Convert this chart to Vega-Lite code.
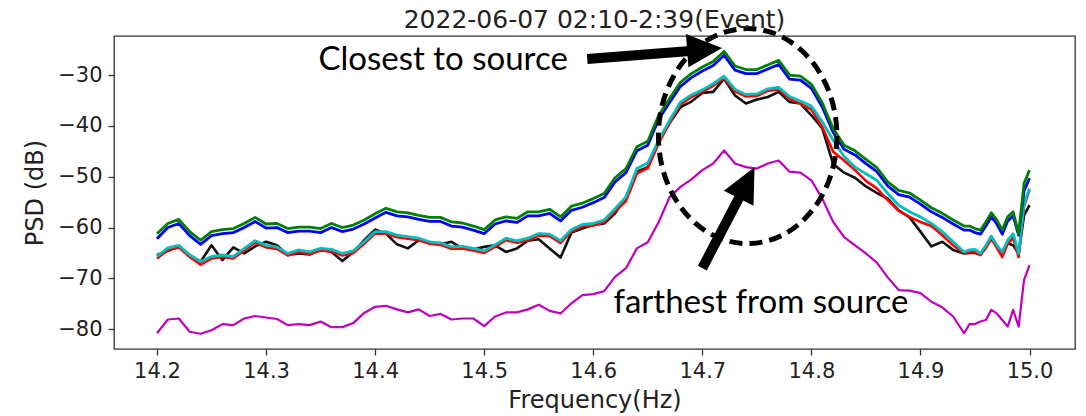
{
  "$schema": "https://vega.github.io/schema/vega-lite/v6.json",
  "width": 961,
  "height": 313,
  "autosize": {"type": "none"},
  "padding": {"left": 114, "top": 36, "right": 11, "bottom": 67},
  "title": {"text": "2022-06-07 02:10-2:39(Event)", "font": "DejaVu Sans", "fontSize": 25, "fontWeight": "normal", "color": "#222222", "baseline": "alphabetic", "offset": -34, "anchor": "middle"},
  "config": {
    "view": {"stroke": "#333333", "strokeWidth": 1.3},
    "axis": {"domain": false, "grid": false, "tickColor": "#333333", "tickSize": 6, "tickWidth": 1.3, "labelFont": "DejaVu Sans", "labelFontSize": 21, "labelColor": "#222222", "titleFont": "DejaVu Sans", "titleFontSize": 24, "titleFontWeight": "normal", "titleColor": "#222222"}
  },
  "datasets": {
    "psd": [
      {"f":14.20,"g":-61.2,"b":-62.2,"r":-66.1,"c":-65.7,"k":-65.4,"m":-80.8},
      {"f":14.21,"g":-59.2,"b":-60.0,"r":-64.4,"c":-64.0,"k":-64.6,"m":-78.1},
      {"f":14.22,"g":-58.4,"b":-59.2,"r":-63.9,"c":-63.5,"k":-63.7,"m":-77.9},
      {"f":14.23,"g":-60.8,"b":-61.6,"r":-65.8,"c":-65.4,"k":-65.4,"m":-80.5},
      {"f":14.24,"g":-62.5,"b":-63.3,"r":-67.3,"c":-66.7,"k":-66.7,"m":-80.9},
      {"f":14.25,"g":-60.8,"b":-61.6,"r":-66.1,"c":-65.7,"k":-63.5,"m":-80.2},
      {"f":14.26,"g":-60.4,"b":-61.2,"r":-65.8,"c":-65.4,"k":-66.4,"m":-79.0},
      {"f":14.27,"g":-60.2,"b":-61.0,"r":-66.1,"c":-65.7,"k":-63.9,"m":-79.2},
      {"f":14.28,"g":-59.2,"b":-60.0,"r":-64.5,"c":-64.1,"k":-65.1,"m":-77.9},
      {"f":14.29,"g":-58.0,"b":-58.8,"r":-63.0,"c":-62.6,"k":-63.7,"m":-77.4},
      {"f":14.30,"g":-59.3,"b":-60.1,"r":-63.9,"c":-63.5,"k":-62.8,"m":-77.7},
      {"f":14.31,"g":-59.2,"b":-60.0,"r":-64.2,"c":-63.8,"k":-63.5,"m":-78.0},
      {"f":14.32,"g":-60.2,"b":-61.0,"r":-65.5,"c":-65.1,"k":-65.4,"m":-79.2},
      {"f":14.33,"g":-59.9,"b":-60.7,"r":-64.8,"c":-64.4,"k":-65.1,"m":-79.0},
      {"f":14.34,"g":-59.9,"b":-60.7,"r":-65.2,"c":-64.8,"k":-65.3,"m":-79.2},
      {"f":14.35,"g":-60.2,"b":-61.0,"r":-64.5,"c":-64.1,"k":-64.3,"m":-78.5},
      {"f":14.36,"g":-59.2,"b":-60.0,"r":-64.7,"c":-64.3,"k":-64.8,"m":-79.6},
      {"f":14.37,"g":-60.0,"b":-60.8,"r":-65.5,"c":-65.1,"k":-66.6,"m":-79.6},
      {"f":14.38,"g":-59.5,"b":-60.3,"r":-65.0,"c":-64.6,"k":-64.8,"m":-78.8},
      {"f":14.39,"g":-58.5,"b":-59.3,"r":-63.2,"c":-62.8,"k":-62.5,"m":-76.8},
      {"f":14.40,"g":-57.3,"b":-58.1,"r":-61.2,"c":-60.8,"k":-60.4,"m":-75.6},
      {"f":14.41,"g":-56.2,"b":-57.0,"r":-61.2,"c":-60.8,"k":-61.2,"m":-75.4},
      {"f":14.42,"g":-56.9,"b":-57.7,"r":-61.9,"c":-61.5,"k":-63.3,"m":-76.1},
      {"f":14.43,"g":-57.1,"b":-57.9,"r":-62.2,"c":-61.8,"k":-64.1,"m":-76.7},
      {"f":14.44,"g":-57.6,"b":-58.4,"r":-62.5,"c":-62.1,"k":-62.5,"m":-76.1},
      {"f":14.45,"g":-58.0,"b":-58.8,"r":-63.2,"c":-62.8,"k":-63.0,"m":-77.4},
      {"f":14.46,"g":-58.0,"b":-58.8,"r":-63.4,"c":-63.0,"k":-63.3,"m":-77.0},
      {"f":14.47,"g":-58.9,"b":-59.7,"r":-64.2,"c":-63.8,"k":-62.8,"m":-78.1},
      {"f":14.48,"g":-59.1,"b":-59.9,"r":-64.1,"c":-63.7,"k":-64.1,"m":-77.9},
      {"f":14.49,"g":-59.7,"b":-60.5,"r":-64.5,"c":-64.1,"k":-64.3,"m":-77.9},
      {"f":14.50,"g":-60.4,"b":-61.2,"r":-65.0,"c":-64.6,"k":-63.8,"m":-79.4},
      {"f":14.51,"g":-58.5,"b":-59.3,"r":-63.8,"c":-63.4,"k":-63.5,"m":-77.5},
      {"f":14.52,"g":-57.9,"b":-58.7,"r":-62.5,"c":-62.1,"k":-64.8,"m":-76.7},
      {"f":14.53,"g":-58.2,"b":-59.0,"r":-63.0,"c":-62.6,"k":-64.1,"m":-76.7},
      {"f":14.54,"g":-56.9,"b":-57.7,"r":-62.5,"c":-62.1,"k":-62.6,"m":-76.1},
      {"f":14.55,"g":-56.9,"b":-57.7,"r":-61.6,"c":-61.2,"k":-62.3,"m":-75.2},
      {"f":14.56,"g":-56.4,"b":-57.2,"r":-61.7,"c":-61.3,"k":-64.1,"m":-76.4},
      {"f":14.57,"g":-57.9,"b":-58.7,"r":-63.0,"c":-62.6,"k":-65.9,"m":-76.9},
      {"f":14.58,"g":-55.8,"b":-56.6,"r":-60.8,"c":-60.4,"k":-61.0,"m":-74.9},
      {"f":14.59,"g":-55.2,"b":-56.0,"r":-59.8,"c":-59.4,"k":-60.2,"m":-73.3},
      {"f":14.60,"g":-54.3,"b":-55.1,"r":-59.6,"c":-59.2,"k":-59.5,"m":-73.1},
      {"f":14.61,"g":-53.3,"b":-54.1,"r":-58.9,"c":-58.5,"k":-59.2,"m":-72.5},
      {"f":14.62,"g":-50.2,"b":-51.0,"r":-56.8,"c":-56.3,"k":-57.2,"m":-69.7},
      {"f":14.63,"g":-48.4,"b":-49.2,"r":-54.8,"c":-54.0,"k":-54.0,"m":-68.0},
      {"f":14.64,"g":-44.1,"b":-44.9,"r":-49.4,"c":-48.4,"k":-49.0,"m":-64.1},
      {"f":14.65,"g":-43.0,"b":-43.8,"r":-48.3,"c":-47.3,"k":-48.1,"m":-62.9},
      {"f":14.66,"g":-37.9,"b":-38.7,"r":-43.4,"c":-42.8,"k":-43.2,"m":-58.9},
      {"f":14.67,"g":-34.6,"b":-35.4,"r":-39.4,"c":-38.9,"k":-39.4,"m":-54.0},
      {"f":14.68,"g":-31.4,"b":-32.2,"r":-35.8,"c":-35.3,"k":-36.3,"m":-52.0},
      {"f":14.69,"g":-29.7,"b":-30.5,"r":-34.3,"c":-33.9,"k":-35.2,"m":-50.5},
      {"f":14.70,"g":-28.4,"b":-29.2,"r":-33.3,"c":-32.9,"k":-33.5,"m":-48.7},
      {"f":14.71,"g":-27.3,"b":-28.1,"r":-32.1,"c":-31.7,"k":-33.3,"m":-47.4},
      {"f":14.72,"g":-25.3,"b":-26.1,"r":-30.6,"c":-30.2,"k":-30.7,"m":-44.8},
      {"f":14.73,"g":-28.2,"b":-29.0,"r":-33.2,"c":-32.8,"k":-34.0,"m":-47.4},
      {"f":14.74,"g":-28.9,"b":-29.7,"r":-34.2,"c":-33.8,"k":-35.6,"m":-48.1},
      {"f":14.75,"g":-28.9,"b":-29.7,"r":-34.1,"c":-33.7,"k":-34.8,"m":-48.4},
      {"f":14.76,"g":-28.0,"b":-28.8,"r":-33.1,"c":-32.7,"k":-34.3,"m":-47.4},
      {"f":14.77,"g":-27.1,"b":-27.9,"r":-32.8,"c":-32.4,"k":-33.3,"m":-46.8},
      {"f":14.78,"g":-30.0,"b":-30.8,"r":-34.7,"c":-34.2,"k":-35.3,"m":-49.0},
      {"f":14.79,"g":-30.2,"b":-31.0,"r":-35.6,"c":-35.1,"k":-35.6,"m":-49.2},
      {"f":14.80,"g":-31.8,"b":-32.6,"r":-36.8,"c":-36.1,"k":-37.9,"m":-50.7},
      {"f":14.81,"g":-35.5,"b":-36.3,"r":-40.2,"c":-39.2,"k":-40.5,"m":-54.3},
      {"f":14.82,"g":-40.5,"b":-41.3,"r":-45.1,"c":-42.8,"k":-47.5,"m":-58.9},
      {"f":14.83,"g":-43.8,"b":-44.6,"r":-46.8,"c":-46.0,"k":-49.2,"m":-61.9},
      {"f":14.84,"g":-44.9,"b":-45.7,"r":-48.7,"c":-48.1,"k":-50.2,"m":-63.5},
      {"f":14.85,"g":-46.6,"b":-47.4,"r":-50.8,"c":-49.4,"k":-51.9,"m":-65.1},
      {"f":14.86,"g":-48.2,"b":-49.0,"r":-52.3,"c":-50.7,"k":-53.2,"m":-66.9},
      {"f":14.87,"g":-51.0,"b":-51.8,"r":-54.6,"c":-53.3,"k":-54.3,"m":-69.8},
      {"f":14.88,"g":-52.7,"b":-53.5,"r":-56.7,"c":-55.6,"k":-56.6,"m":-72.3},
      {"f":14.89,"g":-53.2,"b":-54.0,"r":-57.9,"c":-56.9,"k":-58.0,"m":-72.4},
      {"f":14.90,"g":-54.6,"b":-55.4,"r":-58.9,"c":-57.9,"k":-60.8,"m":-72.9},
      {"f":14.91,"g":-56.1,"b":-56.9,"r":-59.7,"c":-59.2,"k":-63.7,"m":-74.6},
      {"f":14.92,"g":-57.2,"b":-58.0,"r":-61.5,"c":-60.8,"k":-62.8,"m":-75.7},
      {"f":14.93,"g":-58.5,"b":-59.3,"r":-63.5,"c":-62.8,"k":-64.4,"m":-77.5},
      {"f":14.94,"g":-59.7,"b":-60.5,"r":-65.0,"c":-64.8,"k":-65.1,"m":-80.8},
      {"f":14.945,"g":-59.7,"b":-60.5,"r":-64.8,"c":-64.4,"k":-65.0,"m":-79.0},
      {"f":14.95,"g":-60.2,"b":-61.0,"r":-64.8,"c":-64.3,"k":-65.0,"m":-79.0},
      {"f":14.955,"g":-60.5,"b":-61.3,"r":-65.4,"c":-65.1,"k":-65.4,"m":-78.5},
      {"f":14.96,"g":-58.9,"b":-59.7,"r":-64.0,"c":-63.5,"k":-63.8,"m":-78.2},
      {"f":14.965,"g":-57.1,"b":-57.9,"r":-62.2,"c":-61.7,"k":-61.8,"m":-76.2},
      {"f":14.97,"g":-58.5,"b":-59.3,"r":-64.0,"c":-63.5,"k":-63.5,"m":-76.9},
      {"f":14.975,"g":-60.5,"b":-61.3,"r":-65.8,"c":-64.8,"k":-65.0,"m":-78.2},
      {"f":14.98,"g":-57.9,"b":-58.7,"r":-63.2,"c":-62.5,"k":-63.1,"m":-79.5},
      {"f":14.985,"g":-56.9,"b":-57.7,"r":-62.0,"c":-61.2,"k":-63.5,"m":-76.2},
      {"f":14.99,"g":-61.2,"b":-61.5,"r":-65.8,"c":-65.1,"k":-65.1,"m":-79.5},
      {"f":14.995,"g":-51.3,"b":-52.8,"r":-55.8,"c":-55.3,"k":-57.6,"m":-70.3},
      {"f":15.00,"g":-48.7,"b":-50.3,"r":-52.6,"c":-52.3,"k":-55.6,"m":-67.4}
    ]
  },
  "encoding": {
    "x": {"field": "f", "type": "quantitative", "title": "Frequency(Hz)",
          "scale": {"domain": [14.1606, 15.0417], "nice": false, "zero": false},
          "axis": {"values": [14.2, 14.3, 14.4, 14.5, 14.6, 14.7, 14.8, 14.9, 15.0], "format": ".1f", "labelPadding": 5, "titlePadding": 7}},
    "y": {"field": "v", "type": "quantitative", "title": "PSD (dB)",
          "scale": {"domain": [-83.9, -22.3], "nice": false, "zero": false},
          "axis": {"values": [-80, -70, -60, -50, -40, -30], "format": "d", "labelPadding": 6, "titlePadding": 10}}
  },
  "layer": [
    {"data": {"name": "psd"}, "transform": [{"fold": ["m"], "as": ["s", "v"]}], "mark": {"type": "line", "color": "#bf00bf", "strokeWidth": 2.2, "strokeJoin": "round"}},
    {"data": {"name": "psd"}, "transform": [{"fold": ["k"], "as": ["s", "v"]}], "mark": {"type": "line", "color": "#111111", "strokeWidth": 2.6, "strokeJoin": "round"}},
    {"data": {"name": "psd"}, "transform": [{"fold": ["r"], "as": ["s", "v"]}], "mark": {"type": "line", "color": "#ff0000", "strokeWidth": 2.6, "strokeJoin": "round"}},
    {"data": {"name": "psd"}, "transform": [{"fold": ["c"], "as": ["s", "v"]}], "mark": {"type": "line", "color": "#00bfbf", "strokeWidth": 2.8, "strokeJoin": "round"}},
    {"data": {"name": "psd"}, "transform": [{"fold": ["b"], "as": ["s", "v"]}], "mark": {"type": "line", "color": "#0000ff", "strokeWidth": 2.8, "strokeJoin": "round"}},
    {"data": {"name": "psd"}, "transform": [{"fold": ["g"], "as": ["s", "v"]}], "mark": {"type": "line", "color": "#008000", "strokeWidth": 2.8, "strokeJoin": "round"}},
    {"data": {"values": [{"f": 14.7416, "v": -42.0}]},
     "mark": {"type": "point", "shape": "M0.83,0C0.83,0.5523 0.4584,1 0,1C-0.4584,1 -0.83,0.5523 -0.83,0C-0.83,-0.5523 -0.4584,-1 0,-1C0.4584,-1 0.83,-0.5523 0.83,0Z", "filled": false, "stroke": "#000000", "strokeWidth": 5, "strokeDash": [13, 7], "size": 46225, "opacity": 1}},
    {"data": {"values": [{"f": 14.5945, "v": -26.82, "f2": 14.689, "v2": -25.27}, {"f": 14.70, "v": -67.98, "f2": 14.7349, "v2": -53.63}]},
     "mark": {"type": "rule", "color": "#000000", "strokeWidth": 10, "strokeCap": "butt"},
     "encoding": {"x2": {"field": "f2"}, "y2": {"field": "v2"}}},
    {"data": {"values": [{"f": 14.7021, "v": -24.91}]},
     "mark": {"type": "point", "shape": "M0,-1L-0.95,1L0.95,1Z", "filled": true, "fill": "#000000", "strokeWidth": 0, "size": 1225, "angle": 85.6, "opacity": 1}},
    {"data": {"values": [{"f": 14.7406, "v": -51.18}]},
     "mark": {"type": "point", "shape": "M0,-1L-0.95,1L0.95,1Z", "filled": true, "fill": "#000000", "strokeWidth": 0, "size": 1225, "angle": 26.9, "opacity": 1}},
    {"data": {"values": [{"f": 14.4624, "v": -29.08, "t": "Closest to source"}, {"f": 14.7537, "v": -76.88, "t": "farthest from source"}]},
     "mark": {"type": "text", "font": "Lato", "fontSize": 33, "align": "center", "baseline": "alphabetic", "color": "#000000"},
     "encoding": {"text": {"field": "t"}}}
  ]
}
